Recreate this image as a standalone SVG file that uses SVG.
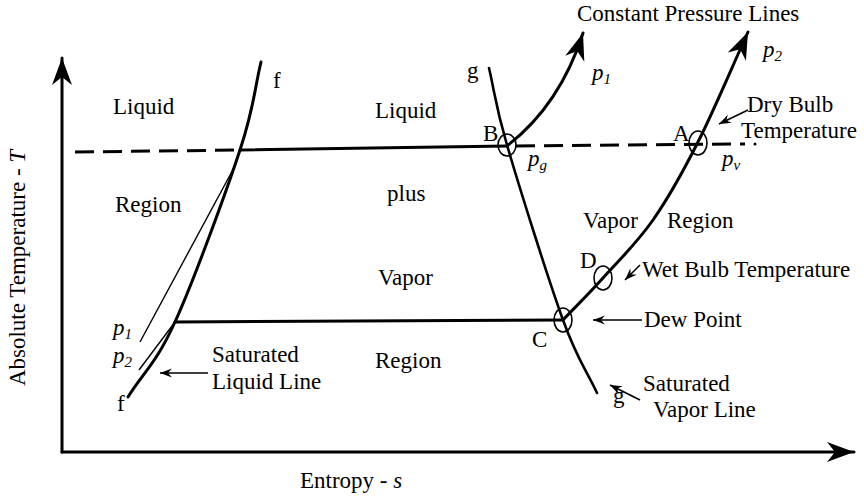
<svg xmlns="http://www.w3.org/2000/svg" width="864" height="500" viewBox="0 0 864 500">
<style>
text{font-family:"Liberation Serif","Times New Roman",serif;font-size:23px;fill:#000}
.it{font-style:italic}
.sub{font-size:15px;font-style:italic}
.thick{fill:none;stroke:#000;stroke-width:3;stroke-linecap:round}
.med{fill:none;stroke:#000;stroke-width:2.6;stroke-linecap:round}
.thin{fill:none;stroke:#000;stroke-width:1.4}
.dash{fill:none;stroke:#000;stroke-width:3;stroke-dasharray:19 9}
.pt{fill:none;stroke:#000;stroke-width:1.6}
.lbl{fill:none;stroke:#000;stroke-width:1.6}
</style>
<defs>
<marker id="big" markerUnits="userSpaceOnUse" markerWidth="40" markerHeight="30" viewBox="-30 -15 32 30" refX="0" refY="0" orient="auto">
<path d="M0,0 L-27,-10 L-19,0 L-27,10 Z" fill="#000"/>
</marker>
<marker id="small" markerUnits="userSpaceOnUse" markerWidth="16" markerHeight="12" viewBox="-13 -6 14 12" refX="0" refY="0" orient="auto">
<path d="M0,0 L-12,-4.5 L-8,0 L-12,4.5 Z" fill="#000"/>
</marker>
</defs>

<g id="axes">
<line x1="62" y1="452" x2="62" y2="58" class="thick" marker-end="url(#big)"/>
<line x1="62" y1="452" x2="854" y2="452" class="thick" marker-end="url(#big)"/>
<text x="300" y="488">Entropy - <tspan class="it">s</tspan></text>
<text transform="translate(25,268) rotate(-90)" text-anchor="middle">Absolute Temperature - <tspan class="it">T</tspan></text>
</g>

<g id="connectors">
<path class="thick" d="M128,397 C143.7,372 156.3,363.2 175,322 C193.7,280.8 225.7,193.3 240,150 C254.3,106.7 254,91.3 261,62"/>
<line class="thin" x1="140" y1="342" x2="236" y2="164"/>
<line class="thin" x1="139" y1="370" x2="175" y2="322"/>
<path class="med" d="M489,68 C495,93.7 494.7,103 507,145 C519.3,187 548,278.7 563,320 C578,361.3 585.7,368.7 597,393"/>
<line class="dash" x1="75" y1="152" x2="240" y2="150"/>
<line class="thick" x1="240" y1="150" x2="507" y2="146"/>
<line class="dash" x1="516" y1="146" x2="745" y2="144"/>
<circle cx="755" cy="144" r="1.5" fill="#000"/>
<line class="thick" x1="175" y1="322" x2="563" y2="320"/>
<path class="thick" d="M507,146 Q560,105 583,33" marker-end="url(#big)"/>
<path class="thick" d="M563,320 C576.3,306 588,294.7 603,278 C618,261.3 637.2,242.7 653,220 C668.8,197.3 682.2,173.3 698,142 C713.8,110.7 731.3,68.7 748,32" marker-end="url(#big)"/>
<line class="lbl" x1="208" y1="373" x2="160" y2="373" marker-end="url(#small)"/>
<line class="lbl" x1="748" y1="110" x2="719" y2="124" marker-end="url(#small)"/>
<line class="lbl" x1="640" y1="265" x2="625" y2="280" marker-end="url(#small)"/>
<line class="lbl" x1="642" y1="320" x2="593" y2="320" marker-end="url(#small)"/>
<line class="lbl" x1="640" y1="400" x2="610" y2="385" marker-end="url(#small)"/>
</g>

<g id="point-B">
<ellipse class="pt" cx="507" cy="145" rx="9" ry="11"/>
<text x="483" y="141">B</text>
</g>
<g id="point-A">
<ellipse class="pt" cx="698" cy="143" rx="9" ry="12"/>
<text x="673" y="141">A</text>
</g>
<g id="point-D">
<ellipse class="pt" cx="603" cy="278" rx="9" ry="12"/>
<text x="580" y="268">D</text>
</g>
<g id="point-C">
<ellipse class="pt" cx="563" cy="320" rx="9" ry="12"/>
<text x="532" y="347">C</text>
</g>

<g id="labels">
<text x="113" y="114">Liquid</text>
<text x="115" y="212">Region</text>
<text x="273" y="88">f</text>
<text x="375" y="118">Liquid</text>
<text x="387" y="201">plus</text>
<text x="378" y="285">Vapor</text>
<text x="375" y="368">Region</text>
<text x="467" y="78">g</text>
<text x="577" y="21">Constant Pressure Lines</text>
<text x="592" y="80" class="it">p<tspan class="sub" dy="4">1</tspan></text>
<text x="763" y="57" class="it">p<tspan class="sub" dy="4">2</tspan></text>
<text x="747" y="112">Dry Bulb</text>
<text x="741" y="138">Temperature</text>
<text x="528" y="166" class="it">p<tspan class="sub" dy="4">g</tspan></text>
<text x="722" y="166" class="it">p<tspan class="sub" dy="4">v</tspan></text>
<text x="583" y="228">Vapor</text>
<text x="667" y="228">Region</text>
<text x="642" y="277">Wet Bulb Temperature</text>
<text x="644" y="327">Dew Point</text>
<text x="613" y="403">g</text>
<text x="643" y="391">Saturated</text>
<text x="653" y="417">Vapor Line</text>
<text x="113" y="335" class="it">p<tspan class="sub" dy="4">1</tspan></text>
<text x="113" y="363" class="it">p<tspan class="sub" dy="4">2</tspan></text>
<text x="117" y="411">f</text>
<text x="212" y="362">Saturated</text>
<text x="212" y="389">Liquid Line</text>
</g>
</svg>
